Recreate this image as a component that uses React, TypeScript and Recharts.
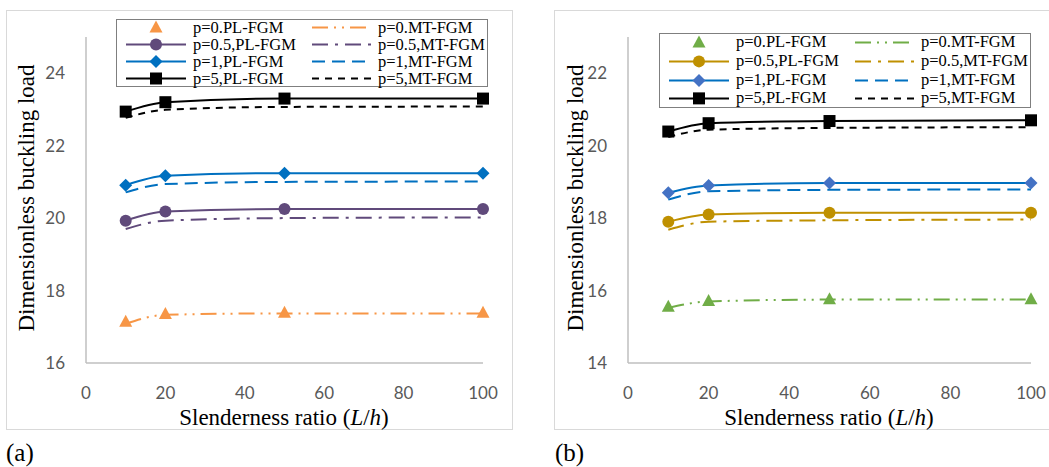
import React from "react";
import { LineChart, Line, XAxis, YAxis, Legend } from "recharts";

const ratios = [10, 20, 50, 100];
const xTicks = [0, 20, 40, 60, 80, 100];

// panel (a)
const aTicks = [16, 18, 20, 22, 24];
const aP0PL = [17.14, 17.35, 17.39, 17.39];
const aP0MT = [17.08, 17.33, 17.37, 17.37];
const aP05PL = [19.93, 20.18, 20.25, 20.25];
const aP05MT = [19.7, 19.93, 20.0, 20.02];
const aP1PL = [20.91, 21.17, 21.24, 21.24];
const aP1MT = [20.71, 20.94, 21.0, 21.01];
const aP5PL = [22.94, 23.2, 23.3, 23.3];
const aP5MT = [22.77, 22.99, 23.07, 23.08];

// panel (b)
const bTicks = [14, 16, 18, 20, 22];
const bP0PL = [15.55, 15.71, 15.76, 15.76];
const bP0MT = [15.52, 15.7, 15.75, 15.75];
const bP05PL = [17.9, 18.1, 18.15, 18.15];
const bP05MT = [17.68, 17.9, 17.94, 17.96];
const bP1PL = [18.7, 18.9, 18.97, 18.97];
const bP1MT = [18.51, 18.74, 18.78, 18.79];
const bP5PL = [20.39, 20.62, 20.68, 20.7];
const bP5MT = [20.24, 20.44, 20.49, 20.51];

const serif = '"Liberation Serif", "Times New Roman", serif';
const sans = 'Lato, "Noto Sans", sans-serif';

type Marker = "triangle" | "circle" | "diamond" | "square";
type Series = {
	key: string;
	name: string;
	values: number[];
	color: string;
	dash?: string;
	marker?: Marker;
	markerColor?: string;
	noLine?: boolean;
};

const drawMarker = (shape: Marker, cx: number, cy: number, fill: string, key: string) => {
	if (shape === "triangle")
		return <polygon key={key} points={`${cx},${cy - 7} ${cx + 6.5},${cy + 5} ${cx - 6.5},${cy + 5}`} fill={fill} />;
	if (shape === "circle") return <circle key={key} cx={cx} cy={cy} r={6} fill={fill} />;
	if (shape === "diamond")
		return <polygon key={key} points={`${cx},${cy - 6.5} ${cx + 6.5},${cy} ${cx},${cy + 6.5} ${cx - 6.5},${cy}`} fill={fill} />;
	return <rect key={key} x={cx - 6} y={cy - 6} width={12} height={12} fill={fill} />;
};

const aPL: Series[] = [
	{ key: "p0pl", name: "p=0.PL-FGM", values: aP0PL, color: "#F79646", marker: "triangle", noLine: true },
	{ key: "p05pl", name: "p=0.5,PL-FGM", values: aP05PL, color: "#604A7B", marker: "circle" },
	{ key: "p1pl", name: "p=1,PL-FGM", values: aP1PL, color: "#0070C0", marker: "diamond" },
	{ key: "p5pl", name: "p=5,PL-FGM", values: aP5PL, color: "#000000", marker: "square" },
];
const aMT: Series[] = [
	{ key: "p0mt", name: "p=0.MT-FGM", values: aP0MT, color: "#F79646", dash: "16 6 2 6 2 6" },
	{ key: "p05mt", name: "p=0.5,MT-FGM", values: aP05MT, color: "#604A7B", dash: "16 7 3 7" },
	{ key: "p1mt", name: "p=1,MT-FGM", values: aP1MT, color: "#0070C0", dash: "13 7" },
	{ key: "p5mt", name: "p=5,MT-FGM", values: aP5MT, color: "#000000", dash: "7 6" },
];
const bPL: Series[] = [
	{ key: "p0pl", name: "p=0.PL-FGM", values: bP0PL, color: "#70AD47", marker: "triangle", noLine: true },
	{ key: "p05pl", name: "p=0.5,PL-FGM", values: bP05PL, color: "#BF9000", marker: "circle" },
	{ key: "p1pl", name: "p=1,PL-FGM", values: bP1PL, color: "#0070C0", marker: "diamond", markerColor: "#4472C4" },
	{ key: "p5pl", name: "p=5,PL-FGM", values: bP5PL, color: "#000000", marker: "square" },
];
const bMT: Series[] = [
	{ key: "p0mt", name: "p=0.MT-FGM", values: bP0MT, color: "#70AD47", dash: "16 6 2 6 2 6" },
	{ key: "p05mt", name: "p=0.5,MT-FGM", values: bP05MT, color: "#BF9000", dash: "16 7 3 7" },
	{ key: "p1mt", name: "p=1,MT-FGM", values: bP1MT, color: "#0070C0", dash: "13 7" },
	{ key: "p5mt", name: "p=5,MT-FGM", values: bP5MT, color: "#000000", dash: "7 6" },
];

const makeRows = (series: Series[]) =>
	ratios.map((r, i) => {
		const row: Record<string, number> = { x: r };
		series.forEach((s) => (row[s.key] = s.values[i]));
		return row;
	});

const Swatch = ({ s, w, h }: { s: Series; w: number; h: number }) => (
	<svg width={w} height={h} style={{ display: "block" }}>
		{!s.noLine && (
			<line x1={0} x2={w} y1={h / 2} y2={h / 2} stroke={s.color} strokeWidth={2} strokeDasharray={s.dash} />
		)}
		{s.marker && drawMarker(s.marker, w / 2, h / 2, s.markerColor || s.color, "m")}
	</svg>
);

const LegendBox = ({ pl, mt, rowH }: { pl: Series[]; mt: Series[]; rowH: number }) => (
	<div
		style={{
			position: "relative",
			width: 372,
			height: rowH * 4,
			border: "1px solid #7F7F7F",
			boxSizing: "border-box",
			background: "#fff",
			fontFamily: serif,
			fontSize: 16.5,
			color: "#000",
		}}>
		{pl.map((s, i) => {
			const m = mt[i];
			return (
				<div key={s.key} style={{ position: "absolute", left: 0, top: i * rowH - 1, height: rowH, width: 372 }}>
					<div style={{ position: "absolute", left: 9, top: 0 }}>
						<Swatch s={s} w={60} h={rowH} />
					</div>
					<div style={{ position: "absolute", left: 76, top: 0, lineHeight: `${rowH}px`, whiteSpace: "nowrap" }}>{s.name}</div>
					<div style={{ position: "absolute", left: 195, top: 0 }}>
						<Swatch s={m} w={60} h={rowH} />
					</div>
					<div style={{ position: "absolute", left: 261, top: 0, lineHeight: `${rowH}px`, whiteSpace: "nowrap" }}>{m.name}</div>
				</div>
			);
		})}
	</div>
);

type PanelProps = {
	left: number;
	width: number;
	pl: Series[];
	mt: Series[];
	yDomain: [number, number];
	yTicks: number[];
	marginLeft: number;
	marginRight: number;
	legendLeft: number;
	legendTop: number;
	rowH: number;
};

const Panel = (p: PanelProps) => {
	const data = makeRows([...p.pl, ...p.mt]);
	return (
		<div
			style={{
				position: "absolute",
				left: p.left,
				top: 10,
				width: p.width,
				height: 420,
				border: "1px solid #D9D9D9",
				boxSizing: "border-box",
				background: "#fff",
			}}>
			<LineChart
				width={p.width - 2}
				height={418}
				data={data}
				margin={{ top: 26, right: p.marginRight, bottom: 26, left: p.marginLeft }}>
				<XAxis
					dataKey="x"
					type="number"
					domain={[0, 100]}
					ticks={xTicks}
					height={40}
					tickLine={false}
					tickSize={0}
					tickMargin={24}
					axisLine={{ stroke: "#BFBFBF", strokeWidth: 1.5 }}
					tick={{ fill: "#595959", fontFamily: sans, fontSize: 17 }}
				/>
				<YAxis
					type="number"
					domain={p.yDomain}
					ticks={p.yTicks}
					width={50}
					tickLine={false}
					tickSize={0}
					tickMargin={21}
					axisLine={{ stroke: "#BFBFBF", strokeWidth: 1.5 }}
					tick={{ fill: "#595959", fontFamily: sans, fontSize: 17 }}
				/>
				<Legend
					layout="horizontal"
					verticalAlign="middle"
					align="center"
					wrapperStyle={{ left: p.legendLeft, top: p.legendTop, width: 372, height: p.rowH * 4 }}
					content={() => <LegendBox pl={p.pl} mt={p.mt} rowH={p.rowH} />}
				/>
				{p.mt.map((s) => (
					<Line
						key={s.key}
						dataKey={s.key}
						name={s.name}
						type="monotone"
						stroke={s.color}
						strokeWidth={2}
						strokeDasharray={s.dash}
						dot={false}
						activeDot={false}
						isAnimationActive={false}
					/>
				))}
				{p.pl.map((s) => (
					<Line
						key={s.key}
						dataKey={s.key}
						name={s.name}
						type="monotone"
						stroke={s.noLine ? "none" : s.color}
						strokeWidth={2}
						dot={(d: any) =>
							drawMarker(s.marker as Marker, d.cx, d.cy, s.markerColor || s.color, `${s.key}-${d.index}`)
						}
						activeDot={false}
						isAnimationActive={false}
					/>
				))}
			</LineChart>
		</div>
	);
};

const titleStyle: React.CSSProperties = {
	position: "absolute",
	fontFamily: serif,
	fontSize: 23,
	lineHeight: "20px",
	color: "#000",
	whiteSpace: "nowrap",
	textAlign: "center",
	width: 400,
};

const XTitle = ({ cx }: { cx: number }) => (
	<div style={{ ...titleStyle, left: cx - 200, top: 408 }}>
		Slenderness ratio (<i>L</i>/<i>h</i>)
	</div>
);

const YTitle = ({ cx }: { cx: number }) => (
	<div style={{ ...titleStyle, left: cx - 200, top: 198 - 10, lineHeight: "20px", transform: "rotate(-90deg)" }}>
		Dimensionless buckling load
	</div>
);

const Tag = ({ x, text }: { x: number; text: string }) => (
	<div style={{ position: "absolute", left: x, top: 440, fontFamily: serif, fontSize: 25, lineHeight: "25px" }}>{text}</div>
);

export default function App() {
	return (
		<div
			style={{
				position: "absolute",
				left: 0,
				top: 0,
				width: 1049,
				height: 467,
				overflow: "hidden",
				background: "#fff",
			}}>
			<Panel
				left={6}
				width={507}
				pl={aPL}
				mt={aMT}
				yDomain={[16, 25]}
				yTicks={aTicks}
				marginLeft={29}
				marginRight={29}
				legendLeft={109}
				legendTop={8}
				rowH={17}
			/>
			<Panel
				left={554}
				width={500}
				pl={bPL}
				mt={bMT}
				yDomain={[14, 23]}
				yTicks={bTicks}
				marginLeft={23}
				marginRight={22}
				legendLeft={104}
				legendTop={22}
				rowH={18.75}
			/>
			<XTitle cx={284} />
			<XTitle cx={829} />
			<YTitle cx={27} />
			<YTitle cx={575.5} />
			<Tag x={6} text="(a)" />
			<Tag x={555} text="(b)" />
		</div>
	);
}
